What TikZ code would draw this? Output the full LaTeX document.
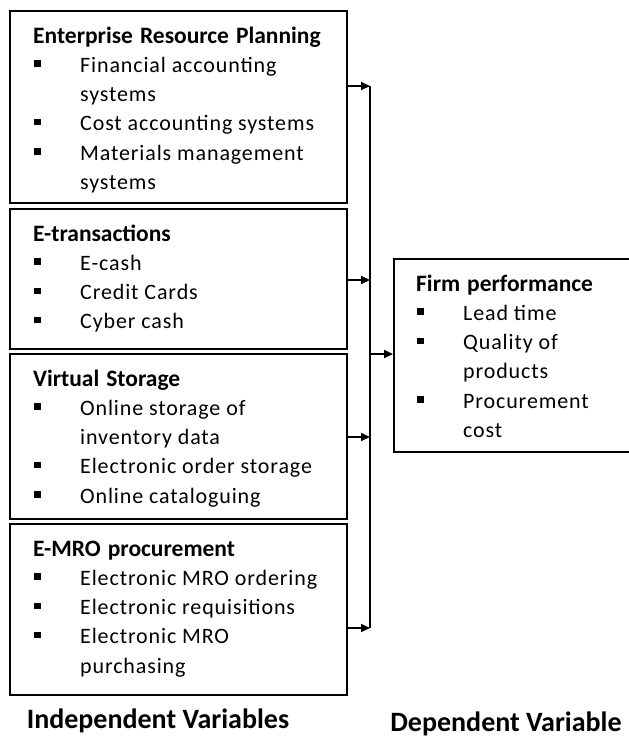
\documentclass[tikz,border=0pt]{standalone}
\usepackage{fontspec}
\setmainfont{Carlito}
\usetikzlibrary{arrows.meta}

% square bullet followed by the hanging indent of the list text
\newcommand{\sqbul}{\makebox[47pt][l]{\hspace*{1pt}\raisebox{5.5pt}{\rule{6.5pt}{6.5pt}}}}
% a stack of lines whose reference point is the first baseline
\newcommand{\blist}[1]{\vtop{\baselineskip=29.3pt\lineskiplimit=-50pt #1}}
\newcommand{\ttl}[1]{\hbox{\fontsize{23.5}{29.3}\selectfont\bfseries\spaceskip=7pt #1}}
\newcommand{\itm}[1]{\hbox{\sqbul\addfontfeature{LetterSpace=4}#1}}
\newcommand{\cnt}[1]{\hbox{\hspace*{47pt}\addfontfeature{LetterSpace=4}#1}}

\tikzset{
  frame/.style={draw, line width=2.4pt, anchor=north west, inner sep=0pt},
  boxtext/.style={anchor=base west, inner sep=0pt, font=\fontsize{22}{29.3}\selectfont},
  lab/.style={anchor=base, inner sep=0pt, font=\fontsize{28}{32}\selectfont\bfseries},
  link/.style={line width=2pt, -{Triangle[length=9pt,width=8pt]}},
  bus/.style={line width=2pt}
}

\begin{document}
\begin{tikzpicture}[x=1pt, y=-1pt]
\fill[white] (0,0) rectangle (629,740);
\useasboundingbox (0,0) rectangle (629,740);

% independent-variable boxes
\node[frame, minimum width=337pt, minimum height=192pt] (erp) at (9,10) {};
\node[frame, minimum width=337pt, minimum height=140pt] (etr) at (9,208) {};
\node[frame, minimum width=337pt, minimum height=165pt] (vst) at (9,353) {};
\node[frame, minimum width=337pt, minimum height=171pt] (emro) at (9,523) {};
% dependent-variable box (runs past the right edge)
\node[frame, minimum width=245pt, minimum height=193pt] (firm) at (393,258) {};

\node[boxtext] (erp-t) at (33,43) {\blist{%
  \ttl{Enterprise Resource Planning}
  \itm{Financial accounting}
  \cnt{systems}
  \itm{Cost accounting systems}
  \itm{Materials management}
  \cnt{systems}}};

\node[boxtext] (etr-t) at (33,241) {\blist{%
  \ttl{E-transactions}
  \itm{E-cash}
  \itm{Credit Cards}
  \itm{Cyber cash}}};

\node[boxtext] (vst-t) at (33,386) {\blist{%
  \ttl{Virtual Storage}
  \itm{Online storage of}
  \cnt{inventory data}
  \itm{Electronic order storage}
  \itm{Online cataloguing}}};

\node[boxtext] (emro-t) at (33,556) {\blist{%
  \ttl{E-MRO procurement}
  \itm{Electronic MRO ordering}
  \itm{Electronic requisitions}
  \itm{Electronic MRO}
  \cnt{purchasing}}};

\node[boxtext] (firm-t) at (416,291) {\blist{%
  \ttl{Firm performance}
  \itm{Lead time}
  \itm{Quality of}
  \cnt{products}
  \itm{Procurement}
  \cnt{cost}}};

% collecting bus
\coordinate (b1) at (370,86);
\coordinate (b2) at (370,280);
\coordinate (b3) at (370,437);
\coordinate (b4) at (370,628);
\coordinate (bf) at (370,354);
\draw[bus] (b1) -- (b4);

\draw[link] (erp.east |- b1) -- (b1);
\draw[link] (etr.east |- b2) -- (b2);
\draw[link] (vst.east |- b3) -- (b3);
\draw[link] (emro.east |- b4) -- (b4);
\draw[link] (bf) -- (firm.west |- bf);

\node[lab] (indep) at (158,728) {Independent Variables};
\node[lab] (dep) at (506,731) {Dependent Variable};
\end{tikzpicture}
\end{document}
